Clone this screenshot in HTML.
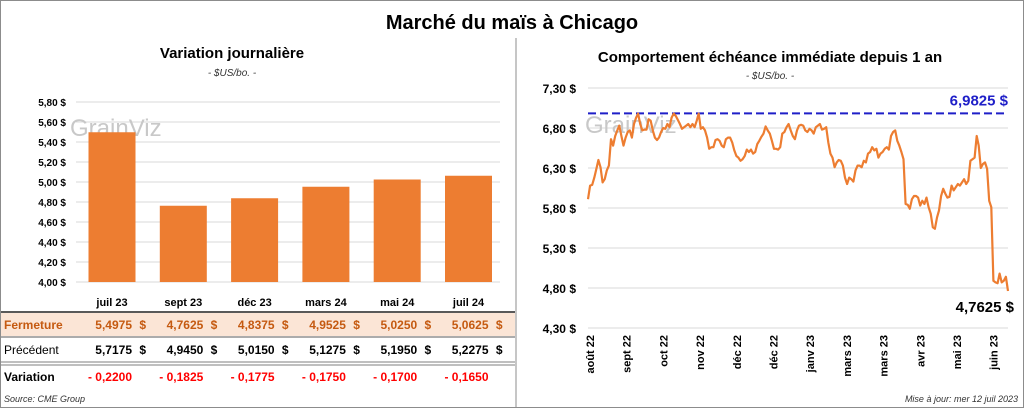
<!DOCTYPE html>
<html><head><meta charset="utf-8"><style>
body{margin:0;width:1024px;height:408px;overflow:hidden;background:#fff;font-family:"Liberation Sans",sans-serif}
svg{display:block}
</style></head><body>
<svg width="1024" height="408" font-family="Liberation Sans, sans-serif">
<rect x="0.5" y="0.5" width="1023" height="407" fill="#fff" stroke="#8c8c8c"/>
<line x1="516" y1="38" x2="516" y2="408" stroke="#8c8c8c"/>
<text x="512" y="29" text-anchor="middle" font-size="20" font-weight="bold">Marché du maïs à Chicago</text>
<text x="232" y="58" text-anchor="middle" font-size="15" font-weight="bold">Variation  journalière</text>
<text x="232" y="76" text-anchor="middle" font-size="10" font-style="italic" fill="#333">- $US/bo. -</text>
<text x="770" y="62" text-anchor="middle" font-size="15" font-weight="bold">Comportement  échéance immédiate  depuis 1 an</text>
<text x="770" y="79" text-anchor="middle" font-size="10" font-style="italic" fill="#333">- $US/bo. -</text>
<g id="left"></g>
<g id="right"></g>
<g id="table"></g>
<text x="4" y="402" font-size="9" font-style="italic" fill="#333">Source: CME Group</text>
<text x="1018" y="402" text-anchor="end" font-size="9" font-style="italic" fill="#333">Mise à jour: mer 12 juil 2023</text>
</svg>
<script>
const barCats=["juil 23","sept 23","déc 23","mars 24","mai 24","juil 24"];
const closeVals=[5.4975,4.7625,4.8375,4.9525,5.0250,5.0625];
const prevVals=[5.7175,4.9450,5.0150,5.1275,5.1950,5.2275];
const leftTicks=[4.0,4.2,4.4,4.6,4.8,5.0,5.2,5.4,5.6,5.8];
const rightTicks=[4.30,4.80,5.30,5.80,6.30,6.80,7.30];
const dateLabels=["août 22","sept 22","oct 22","nov 22","déc 22","déc 22","janv 23","mars 23","mars 23","avr 23","mai 23","juin 23"];
const maxRef=[6.9825];
const prices=[5.91,6.08,6.09,6.18,6.29,6.40,6.31,6.12,6.16,6.27,6.33,6.66,6.58,6.70,6.77,6.83,6.70,6.58,6.68,6.75,6.77,6.68,6.85,6.93,6.98,6.85,6.77,6.78,6.78,6.91,6.89,6.77,6.68,6.65,6.68,6.75,6.80,6.79,6.85,6.81,6.93,6.98,6.95,6.90,6.85,6.79,6.81,6.83,6.85,6.81,6.85,6.81,6.89,6.98,6.79,6.81,6.77,6.68,6.54,6.56,6.56,6.65,6.66,6.64,6.58,6.56,6.66,6.68,6.68,6.62,6.52,6.45,6.43,6.39,6.41,6.45,6.53,6.50,6.53,6.48,6.50,6.60,6.64,6.69,6.73,6.82,6.77,6.73,6.64,6.54,6.54,6.53,6.56,6.73,6.75,6.81,6.85,6.77,6.70,6.66,6.77,6.83,6.84,6.83,6.77,6.75,6.79,6.77,6.73,6.81,6.83,6.85,6.78,6.79,6.81,6.62,6.48,6.43,6.31,6.37,6.40,6.39,6.33,6.18,6.10,6.18,6.16,6.13,6.27,6.33,6.33,6.31,6.39,6.37,6.48,6.50,6.56,6.52,6.54,6.43,6.48,6.50,6.54,6.56,6.53,6.70,6.75,6.77,6.64,6.58,6.50,6.41,5.85,5.84,5.79,5.91,5.95,5.95,5.93,5.83,5.89,5.85,5.93,5.81,5.73,5.56,5.54,5.68,5.77,5.95,6.04,5.98,5.93,5.94,6.08,6.02,6.06,6.10,6.08,6.12,6.16,6.10,6.14,6.39,6.41,6.43,6.70,6.58,6.30,6.35,6.37,6.29,5.89,5.81,4.89,4.87,4.86,4.98,4.87,4.89,4.94,4.7625];

const NS="http://www.w3.org/2000/svg";
function mk(tag,attrs,parent,txt){const e=document.createElementNS(NS,tag);for(const k in attrs)e.setAttribute(k,attrs[k]);if(txt!==undefined)e.textContent=txt;parent.appendChild(e);return e;}
const fmt2=v=>v.toFixed(2).replace('.',',')+' $';
const fmt4=v=>v.toFixed(4).replace('.',',');

// LEFT BAR CHART
const L=document.getElementById('left');
const ly=v=>282-(v-4.0)*100;
const lx=i=>112+i*71.3;
leftTicks.forEach(t=>{
 const g=mk('line',{x1:76,x2:500,y1:ly(t),y2:ly(t),stroke:'#d9d9d9'},L);
 
 
 const tx=mk('text',{x:66,y:ly(t)+4,'text-anchor':'end','font-size':10,'font-weight':'bold'},L,fmt2(t));
 
 
});
const wm=mk('text',{x:70,y:136,'font-size':24,fill:'#c8c8c8'},L,'GrainViz');


closeVals.forEach((v,i)=>{
 const r=mk('rect',{x:lx(i)-23.5,y:ly(v),width:47,height:282-ly(v),fill:'#ed7d31'},L);
 
 
 const t=mk('text',{x:lx(i),y:306,'text-anchor':'middle','font-size':11,'font-weight':'bold'},L,barCats[i]);
 
 
});

// TABLE
const T=document.getElementById('table');
const bg=mk('rect',{x:1,y:313,width:514,height:23,fill:'#fbe5d6'},T);


[[312,'#595959',2],[337,'#595959',1],[362,'#7f7f7f',1],[365,'#7f7f7f',1]].forEach(l=>{
 const e=mk('line',{x1:1,x2:515,y1:l[0],y2:l[0],stroke:l[1],'stroke-width':l[2]},T);
 
 
});
const rows=[["Fermeture",329,'#c55a11',closeVals,'normal'],["Précédent",354,'#000',prevVals,'normal']];
rows.forEach(r=>{
 const h=mk('text',{x:4,y:r[1],'font-size':12,fill:r[2],'font-weight':r[0]=='Fermeture'?'bold':'normal'},T,r[0]);
 
 
 r[3].forEach((v,i)=>{
  const t=mk('text',{x:lx(i)+20,y:r[1],'text-anchor':'end','font-size':12,'font-weight':'bold',fill:r[2]},T,fmt4(v)+'  ');
  
  
  const d=mk('text',{x:lx(i)+34,y:r[1],'text-anchor':'end','font-size':12,'font-weight':'bold',fill:r[2]},T,'$');
  
  
 });
});
const vh=mk('text',{x:4,y:381,'font-size':12,'font-weight':'bold'},T,'Variation');


closeVals.forEach((v,i)=>{
 const d=v-prevVals[i];
 const t=mk('text',{x:lx(i)-2,y:381,'text-anchor':'middle','font-size':12,'font-weight':'bold',fill:'#ff0000'},T,(d<0?'- ':'+ ')+fmt4(Math.abs(d)));
 
 
});

// RIGHT LINE CHART
const R=document.getElementById('right');
const ry=v=>88+(7.30-v)*80;
const x0=588,x1=1008;
const rx=i=>x0+i*(x1-x0)/(prices.length-1);
rightTicks.forEach(t=>{
 const g=mk('line',{x1:x0,x2:x1,y1:ry(t),y2:ry(t),stroke:'#d9d9d9'},R);
 
 
 const tx=mk('text',{x:576,y:ry(t)+5,'text-anchor':'end','font-size':12,'font-weight':'bold'},R,fmt2(t));
 
 
});
const wm2=mk('text',{x:585,y:133,'font-size':24,fill:'#c8c8c8'},R,'GrainViz');


dateLabels.forEach((d,i)=>{
 const x=590+i*36.7;
 const t=mk('text',{x:0,y:0,'text-anchor':'end','font-size':11,'font-weight':'bold',transform:`translate(${x+4},335) rotate(-90)`},R,d);
 
 
});
const ml=mk('line',{x1:x0,x2:x1,y1:ry(maxRef[0]),y2:ry(maxRef[0]),stroke:'#1f1fc8','stroke-width':2,'stroke-dasharray':'8,4'},R);


const mt=mk('text',{x:1008,y:ry(maxRef[0])-8,'text-anchor':'end','font-size':15,'font-weight':'bold',fill:'#1f1fc8'},R,fmt4(maxRef[0])+' $');


const pl=mk('polyline',{points:prices.map((v,i)=>rx(i).toFixed(1)+','+ry(v).toFixed(1)).join(' '),fill:'none',stroke:'#ed7d31','stroke-width':2.2,'stroke-linejoin':'round'},R);


const last=prices[prices.length-1];
const lt=mk('text',{x:1014,y:ry(last)+21,'text-anchor':'end','font-size':15,'font-weight':'bold'},R,fmt4(last)+' $');


</script>
</body></html>
